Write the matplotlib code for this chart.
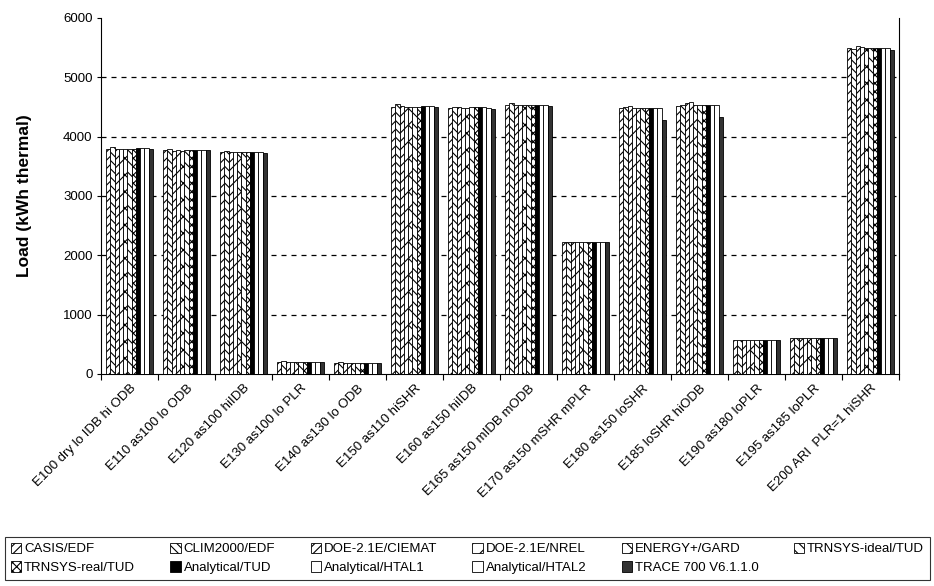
import numpy as np
import matplotlib
matplotlib.use("Agg")
import matplotlib.pyplot as plt
from matplotlib.patches import Patch

plt.rcParams['font.family'] = ['Liberation Sans', 'DejaVu Sans']
plt.rcParams['hatch.linewidth'] = 0.8

categories = [
    "E100 dry lo IDB hi ODB", "E110 as100 lo ODB", "E120 as100 hiIDB",
    "E130 as100 lo PLR", "E140 as130 lo ODB", "E150 as110 hiSHR",
    "E160 as150 hiIDB", "E165 as150 mIDB mODB", "E170 as150 mSHR mPLR",
    "E180 as150 loSHR", "E185 loSHR hiODB", "E190 as180 loPLR",
    "E195 as185 loPLR", "E200 ARI  PLR=1 hiSHR",
]

series_names = [
    "CASIS/EDF", "CLIM2000/EDF", "DOE-2.1E/CIEMAT", "DOE-2.1E/NREL",
    "ENERGY+/GARD", "TRNSYS-ideal/TUD", "TRNSYS-real/TUD", "Analytical/TUD",
    "Analytical/HTAL1", "Analytical/HTAL2", "TRACE 700 V6.1.1.0",
]

casis      = [3800, 3770, 3750, 210, 190, 4500, 4490, 4530, 2230, 4480, 4510, 570, 600, 5490]
clim2000   = [3830, 3800, 3760, 220, 200, 4550, 4500, 4560, 2230, 4500, 4530, 570, 600, 5470]
doe_ciemat = [3790, 3760, 3740, 210, 190, 4520, 4500, 4540, 2220, 4520, 4560, 570, 600, 5530]
doe_nrel   = [3800, 3770, 3750, 210, 190, 4500, 4490, 4530, 2230, 4490, 4590, 570, 600, 5510]
energyplus = [3790, 3760, 3740, 210, 190, 4500, 4490, 4530, 2220, 4490, 4530, 570, 600, 5490]
trn_ideal  = [3800, 3770, 3750, 210, 190, 4500, 4500, 4530, 2230, 4490, 4530, 570, 600, 5490]
trn_real   = [3800, 3770, 3750, 210, 190, 4500, 4500, 4530, 2230, 4490, 4530, 570, 600, 5490]
anal_tud   = [3810, 3780, 3750, 210, 190, 4510, 4500, 4530, 2230, 4490, 4530, 570, 600, 5490]
anal_htal1 = [3810, 3780, 3750, 210, 190, 4510, 4500, 4530, 2230, 4490, 4530, 570, 600, 5490]
anal_htal2 = [3810, 3780, 3750, 210, 190, 4510, 4480, 4530, 2230, 4490, 4530, 570, 600, 5490]
trace700   = [3790, 3770, 3730, 210, 190, 4500, 4470, 4510, 2220, 4280, 4330, 570, 600, 5460]

series_values = [casis, clim2000, doe_ciemat, doe_nrel, energyplus, trn_ideal,
                 trn_real, anal_tud, anal_htal1, anal_htal2, trace700]

yticks = [0, 1000, 2000, 3000, 4000, 5000, 6000]

# fill colour, hatch pattern for each program
styles = [
    ("white", "////"),
    ("white", "\\\\\\\\"),
    ("white", "////"),
    ("white", "//"),
    ("white", "xx"),
    ("white", "\\\\\\"),
    ("white", "xxxx"),
    ("black", None),
    ("white", None),
    ("white", None),
    ("#333333", None),
]

fig = plt.figure(figsize=(9.34, 5.86), dpi=100)
ax = fig.add_axes([101 / 934, 212 / 586, 798 / 934, 356 / 586])

n_groups = len(categories)
n_series = len(series_names)
bar_w = 0.075
offset0 = -bar_w * (n_series - 1) / 2
x = np.arange(n_groups)

handles = []
for i, (vals, (fc, hatch)) in enumerate(zip(series_values, styles)):
    ax.bar(x + offset0 + i * bar_w, vals, width=bar_w, color=fc,
           edgecolor="black", linewidth=0.6, hatch=hatch, zorder=3)
    handles.append(Patch(facecolor=fc, edgecolor="black", linewidth=0.6,
                         hatch=hatch, label=series_names[i]))

ax.set_xlim(-0.5, n_groups - 0.5)
ax.set_ylim(0, 6000)
ax.set_yticks(yticks)
ax.set_yticklabels([str(t) for t in yticks], fontsize=9.5)
for g in yticks[1:-1]:
    ax.axhline(g, color="black", linestyle=(0, (4, 4)), linewidth=0.9, zorder=1)

# category ticks sit on group boundaries, labels at group centres
ax.set_xticks(np.arange(-0.5, n_groups, 1.0))
ax.set_xticklabels([])
ax.tick_params(axis="x", direction="out", length=4, width=0.8)
ax.tick_params(axis="y", direction="out", length=3, width=0.8, pad=3)
for xi, lab in zip(x, categories):
    ax.annotate(lab, xy=(xi, 0), xycoords=("data", "axes fraction"),
                xytext=(0, -6), textcoords="offset points",
                rotation=45, ha="right", va="top", rotation_mode="anchor",
                fontsize=9.5)

ax.spines["top"].set_visible(False)
for s in ("left", "bottom", "right"):
    ax.spines[s].set_linewidth(0.8)

ax.set_ylabel("Load (kWh thermal)", fontsize=12.5, fontweight="bold", labelpad=22)

# legend reads across rows: matplotlib fills columns, so interleave the rows
ncol = 6
row1 = handles[:ncol]
row2 = handles[ncol:]
ordered = []
for j in range(ncol):
    ordered.append(row1[j])
    if j < len(row2):
        ordered.append(row2[j])

leg = fig.legend(handles=ordered, loc="lower left", ncol=ncol,
                 bbox_to_anchor=(5 / 934, 6 / 586, 925 / 934, 47 / 586),
                 mode="expand", fontsize=9.5, frameon=True, fancybox=False,
                 edgecolor="black", handlelength=0.8, handleheight=0.8,
                 handletextpad=0.2, borderpad=0.45, labelspacing=0.45,
                 columnspacing=0.5, borderaxespad=0)
leg.get_frame().set_linewidth(0.8)

fig.savefig("out.png", dpi=100)
